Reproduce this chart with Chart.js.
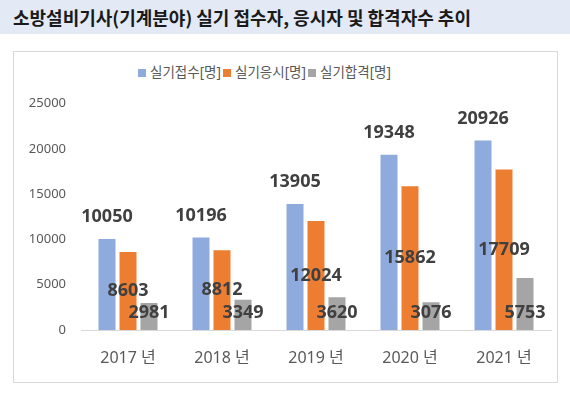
<!DOCTYPE html>
<html>
<head>
<meta charset="utf-8">
<script src="https://cdn.jsdelivr.net/npm/chart.js@4"></script>
<style>
  html,body{margin:0;padding:0;background:#fff;}
  body{width:570px;height:396px;position:relative;overflow:hidden;font-family:'Noto Sans','Noto Sans CJK KR',sans-serif;}
  #title{position:absolute;left:0;top:0;width:570px;height:34px;background:#E3EAF6;}
  #title span{position:absolute;left:13px;top:4px;font-family:'Noto Sans CJK KR',sans-serif;font-weight:bold;font-size:18px;color:#1a1a1a;white-space:nowrap;}
  #frame{position:absolute;left:13px;top:51px;width:545px;height:332px;border:1px solid #D9D9D9;box-sizing:border-box;}
  #legend{position:absolute;left:138px;top:61px;font-size:13.5px;color:#595959;white-space:nowrap;display:flex;align-items:center;}
  #legend .it{display:flex;align-items:center;margin-right:2px;}
  #legend .bx{width:8px;height:8px;margin-right:4px;margin-top:4px;}
  #wrap{position:absolute;left:0;top:0;width:570px;height:396px;}
</style>
</head>
<body>
<div id="title"><span></span></div>
<div id="frame"></div>
<div id="legend"></div>
<div id="wrap"><canvas id="c" width="570" height="396"></canvas></div>
<script>
const titleText = '소방설비기사(기계분야) 실기 접수자, 응시자 및 합격자수 추이';
const categories = ['2017 년', '2018 년', '2019 년', '2020 년', '2021 년'];
const seriesNames = ['실기접수[명]', '실기응시[명]', '실기합격[명]'];
const applied = [10050, 10196, 13905, 19348, 20926];
const tested = [8603, 8812, 12024, 15862, 17709];
const passed = [2981, 3349, 3620, 3076, 5753];
const yTicks = [0, 5000, 10000, 15000, 20000, 25000];
const colors = ['#8FAADC', '#ED7D31', '#A5A5A5'];

document.querySelector('#title span').textContent = titleText;
const lg = document.getElementById('legend');
seriesNames.forEach((n, i) => {
  const it = document.createElement('div'); it.className = 'it';
  const b = document.createElement('div'); b.className = 'bx'; b.style.background = colors[i];
  const t = document.createElement('span'); t.textContent = n;
  it.appendChild(b); it.appendChild(t); lg.appendChild(it);
});

const labelPlugin = {
  id: 'valLabels',
  afterDatasetsDraw(chart) {
    const ctx = chart.ctx;
    ctx.save();
    ctx.font = "bold 18px 'Noto Sans', 'DejaVu Sans', sans-serif";
    ctx.fillStyle = '#404040';
    ctx.textAlign = 'center';
    ctx.textBaseline = 'middle';
    chart.data.datasets.forEach((ds, di) => {
      const meta = chart.getDatasetMeta(di);
      meta.data.forEach((bar, i) => {
        let y;
        if (di === 0) y = bar.y - 22;
        else if (di === 1) y = (bar.y + bar.base) / 2;
        else y = bar.base - 17;
        ctx.fillText(String(ds.data[i]), bar.x, y);
      });
    });
    ctx.restore();
  }
};

new Chart(document.getElementById('c'), {
  type: 'bar',
  data: {
    labels: categories,
    datasets: [
      { label: seriesNames[0], data: applied, backgroundColor: colors[0] },
      { label: seriesNames[1], data: tested, backgroundColor: colors[1] },
      { label: seriesNames[2], data: passed, backgroundColor: colors[2] }
    ]
  },
  options: {
    responsive: false,
    animation: false,
    devicePixelRatio: 1,
    categoryPercentage: 0.67,
    barPercentage: 0.81,
    layout: { padding: { left: 0, right: 19, top: 103.5, bottom: 0 } },
    plugins: { legend: { display: false }, tooltip: { enabled: false } },
    scales: {
      x: {
        grid: { display: false, drawTicks: false },
        border: { display: true, color: '#D9D9D9', width: 1 },
        ticks: { color: '#595959', font: { size: 16, family: "'Noto Sans', 'Noto Sans CJK KR', sans-serif" }, padding: 19 },
        afterFit(s) { s.height = 66; }
      },
      y: {
        min: 0, max: 25000,
        afterBuildTicks(s) { s.ticks = yTicks.map(v => ({ value: v })); },
        grid: { display: false, drawTicks: false },
        border: { display: false },
        ticks: { color: '#595959', font: { size: 13, family: "'Noto Sans', sans-serif" }, padding: 15,
                 callback: (v) => String(v) },
        afterFit(s) { s.width = 81; }
      }
    }
  },
  plugins: [labelPlugin]
});
</script>
</body>
</html>
